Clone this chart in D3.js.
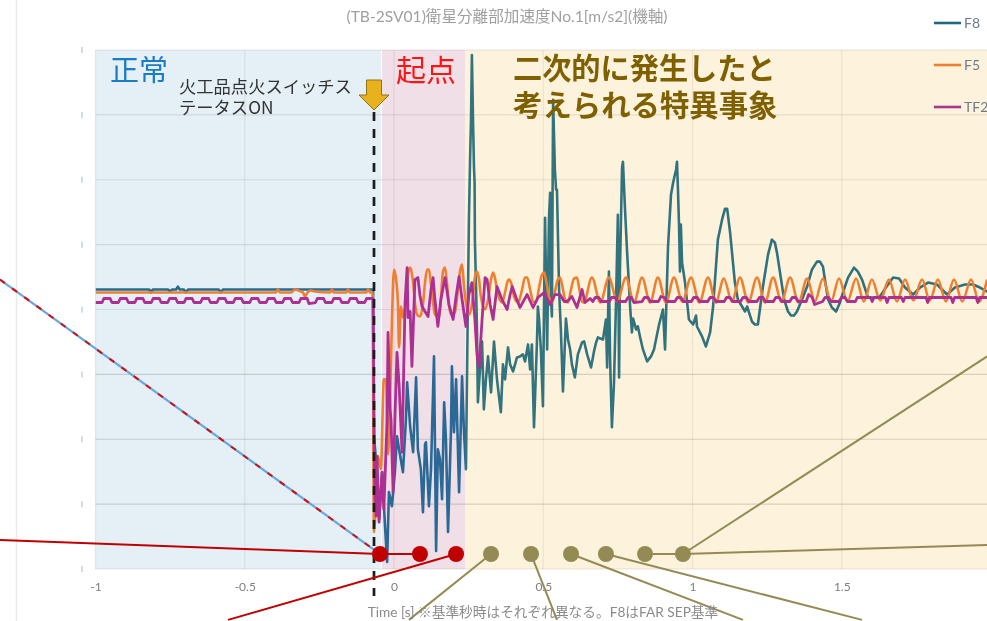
<!DOCTYPE html>
<html><head><meta charset="utf-8">
<script src="https://cdn.jsdelivr.net/npm/d3@7"></script>
<style>
html,body{margin:0;padding:0;background:#fff;overflow:hidden}
svg{display:block;filter:blur(0.45px)}
text{font-family:"Lato","Noto Sans CJK JP",sans-serif}
.jp{font-family:"Noto Sans CJK JP",sans-serif}
</style></head><body><div id="chart"></div>
<script>
// time in ms, acceleration value
const xTicks=[-1,-0.5,0,0.5,1,1.5];
const xTickLabels=["-1","-0.5","0","0.5","1","1.5"];
const yGrid=[-260,-195,-130,-65,0,65,130,195,260];
const title="(TB-2SV01)衛星分離部加速度No.1[m/s2](機軸)";
const xTitle="Time [s] ※基準秒時はそれぞれ異なる。F8はFAR SEP基準";
const legendNames=["F8","F5","TF2"];
const legendColors=["#1f6a80","#ed7d31","#a8358c"];
const phases=[[-1000,-43,"#e4f0f6"],[-40,238,"#f1dfe8"],[238,2000,"#fdf3dc"]];

const f8=[[-1000,20],[-820,20],[-814,17],[-808,20],[-757,20],[-750,18],[-743,20],[-730,20],[-724,23],[-718,20],[-704,20],[-697,17],[-690,20],[-587,20],[-580,17],[-573,20],[-70,20],
[-67,-127],[-57,-163],[-50,-210],[-40,-163],[-30,-217],[-23,-253],[-17,-183],[-7,-197],[3,-163],[10,-127],[17,-140],[30,-163],[40,-110],[44,-73],[54,-117],[64,-143],[74,-68],[80,-140],[90,-160],[97,-203],[104,-135],[107,-133],[117,-197],[124,-160],[134,-47],[141,-242],[147,-140],[154,-150],[161,-190],[168,-93],[174,-130],[181,-223],[191,-120],[194,-57],[201,-123],[208,-70],[218,-183],[228,-67],[234,-120],[241,-160],
[248,20],[251,90],[255,153],[258,190],[261,255],[265,185],[268,142],[270,127],[271,70],[275,20],[278,-20],[281,-93],[288,-60],[295,-32],[301,-100],[308,-70],[315,-47],[325,-83],[335,-32],[345,-70],[358,-103],[365,-55],[372,-70],[382,-38],[389,-55],[399,-62],[412,-48],[422,-47],[432,-45],[439,-52],[449,-35],[456,-60],[462,-35],[469,-118],[479,-32],[482,3],[486,-10],[492,-40],[499,-97],[506,92],[513,-40],[519,90],[523,117],[526,10],[529,-7],[533,210],[539,140],[543,120],[546,120],[553,20],[559,-20],[566,-82],[576,-9],[583,-30],[590,-40],[596,-55],[606,-68],[616,-45],[630,-33],[637,-32],[647,-45],[660,-58],[670,-42],[677,-33],[683,-28],[700,-30],[710,-10],[714,-58],[720,38],[724,-50],[730,-118],[737,-73],[744,10],[750,95],[754,-68],[757,40],[764,142],[767,148],[774,100],[781,57],[791,3],[797,-23],[801,-9],[811,-20],[817,-17],[824,-27],[834,-40],[848,-52],[861,-47],[871,-40],[888,-15],[901,0],[908,-40],[918,63],[928,115],[935,127],[941,135],[945,140],[948,148],[951,123],[955,83],[958,38],[961,85],[965,47],[975,27],[988,-10],[1002,-15],[1012,-6],[1015,-17],[1032,-27],[1045,-37],[1059,-23],[1069,3],[1085,70],[1099,90],[1109,101],[1116,101],[1126,77],[1142,27],[1152,10],[1166,3],[1176,-2],[1183,3],[1199,-12],[1209,-15],[1219,-15],[1236,23],[1253,55],[1266,70],[1276,67],[1283,57],[1307,10],[1320,-2],[1330,-6],[1340,-6],[1350,-2],[1367,10],[1384,23],[1400,40],[1417,48],[1427,48],[1437,43],[1454,10],[1467,2],[1481,-2],[1494,7],[1504,17],[1521,32],[1541,42],[1554,38],[1568,30],[1588,12],[1608,12],[1628,13],[1648,22],[1672,32],[1692,31],[1712,22],[1739,15],[1762,22],[1789,27],[1819,25],[1853,15],[1879,22],[1913,25],[1940,25],[1963,22],[1987,18],[2013,17]];

const f5=[[-1000,17],[-396,17],[-389,20],[-382,17],[-345,17],[-332,20],[-320,19],[-305,17],[-298,13],[-290,17],[-278,19],[-265,18],[-214,17],[-208,20],[-202,17],[-160,17],[-154,20],[-148,17],[-93,17],[-87,20],[-80,17],[-72,17],
[-67,-223],[-54,-147],[-44,-160],[-34,-70],[-27,-70],[-20,-145],[-13,-90],[-7,-13],[0,40],[7,30],[13,7],[17,-38],[23,3],[30,-8],[40,10],[47,35],[54,42],[57,40],[64,27],[70,7],[77,-5],[87,-7],[97,5],[104,27],[111,40],[117,40],[124,25],[131,7],[137,-5],[151,-8],[157,10],[164,38],[171,42],[178,25],[184,5],[191,-5],[204,-3],[214,20],[221,38],[228,45],[234,25],[241,7],[251,-5],[258,0],[265,15],[271,32],[278,38],[285,30],[291,13],[305,0],[315,10],[325,30],[332,37],[338,32],[348,15],[362,7],[372,17],[379,27],[385,30],[392,27],[402,13],[416,7],[429,20],[439,32],[446,32],[456,20],[466,8],[476,7],[486,22],[496,35],[503,37],[509,30],[519,13],[529,7],[539,18],[549,30],[556,32],[563,25],[573,10],[583,7],[593,20],[603,31],[613,32],[620,22],[630,8],[636,7],
[663,32],[691,7],[720,32],[748,8],[777,32],[804,7],[831,32],[858,7],[884,32],[911,7],[938,32],[966,8],[995,32],[1023,7],[1052,32],[1078,7],[1105,31],[1132,8],[1159,32],[1187,7],[1216,32],[1243,7],[1270,32],[1298,8],[1327,32],[1355,7],[1384,31],[1410,8],[1437,31],[1464,8],[1491,31],[1519,8],[1548,31],[1574,8],[1601,30],[1629,9],[1658,30],[1685,8],[1712,30],[1740,9],[1769,30],[1795,9],[1822,30],[1849,8],[1876,30],[1904,8],[1933,30],[1960,8],[1987,30]];

const tf2=[[-1000,7],[-978,7],[-972,11],[-951,11],[-945,7],[-923,7],[-917,11],[-896,11],[-890,7],[-868,7],[-862,11],[-841,11],[-835,7],[-813,7],[-807,11],[-786,11],[-780,7],[-758,7],[-752,11],[-731,11],[-725,7],[-703,7],[-697,11],[-676,11],[-670,7],[-648,7],[-642,11],[-621,11],[-615,7],[-593,7],[-587,11],[-566,11],[-560,7],[-538,7],[-532,11],[-511,11],[-505,7],[-483,7],[-477,11],[-456,11],[-450,7],[-428,7],[-422,11],[-401,11],[-395,7],[-373,7],[-367,11],[-346,11],[-340,7],[-318,7],[-312,11],[-291,11],[-285,6],[-263,7],[-257,11],[-236,11],[-230,7],[-208,7],[-202,11],[-181,11],[-175,7],[-153,7],[-147,11],[-126,11],[-120,7],[-98,7],[-92,11],[-73,11],
[-70,10],[-67,-117],[-64,-190],[-60,-207],[-57,-147],[-50,-213],[-40,-163],[-34,-200],[-23,-110],[-20,-23],[-13,-100],[-10,-110],[-3,-183],[3,-110],[10,-43],[17,-75],[27,-143],[37,7],[44,42],[47,-8],[54,-2],[60,-57],[70,30],[80,32],[87,14],[94,3],[104,-2],[114,-7],[124,20],[131,32],[137,10],[147,-17],[157,10],[171,32],[184,5],[198,-10],[208,13],[218,33],[228,10],[241,-17],[251,15],[261,27],[271,-10],[278,-45],[285,-58],[295,-10],[305,32],[312,30],[322,5],[332,-10],[345,23],[362,10],[379,0],[389,15],[396,23],[409,12],[422,2],[446,15],[466,2],[482,12],[503,17],[523,5],[539,15],[556,15],[570,8],[580,8],[596,13],[613,2],[630,20],[640,7],[657,11],
[666,8],[674,12],[686,12],[694,8],[721,8],[729,12],[741,12],[749,8],[776,8],[784,12],[796,12],[804,7],[831,8],[839,12],[851,12],[859,8],[886,8],[894,13],[906,12],[914,8],[941,8],[949,12],[961,12],[969,8],[996,8],[1004,12],[1016,12],[1024,8],[1051,8],[1059,12],[1071,12],[1079,8],[1106,8],[1114,12],[1126,12],[1134,8],[1161,8],[1169,12],[1181,12],[1189,8],[1216,8],[1224,12],[1236,12],[1244,8],[1271,8],[1279,12],[1291,12],[1299,8],[1326,8],[1334,12],[1346,12],[1354,8],[1381,8],[1389,15],[1401,12],[1409,5],[1436,8],[1444,12],[1456,12],[1464,8],[1491,8],[1499,12],[1511,12],[1519,8],[1546,8],[1552,12],[1596,12],[1602,8],[1608,12],[1646,12],[1652,7],[1658,12],[1700,12],[1706,8],[1712,12],[1782,12],[1788,7],[1794,12],[1866,12],[1872,7],[1878,12],[1950,12],[1956,7],[1962,12],[2013,12]];

const arrowTimeMs=-68;
const redMarkers=[-47,87,208];
const oliveMarkers=[325,459,593,710,841,968];
const markerValue=-245;
const redLeaders=[[[-1320,-231],[-47,-245]],[[-47,-245],[87,-245]],[[208,-245],[-556,-311]]];
const oliveLeaders=[[[325,-245],[50,-311]],[[459,-245],[546,-311]],[[593,-245],[1169,-311]],[[710,-245],[1568,-311]],[[841,-245],[968,-245]],[[968,-245],[1987,-47]],[[968,-245],[1987,-236]]];
const dashedLeader=[[-1320,30],[-47,-245]];

const W=987,H=621;
const x=d3.scaleLinear().domain([-1,2]).range([95.5,991]);
const y=d3.scaleLinear().domain([-260,260]).range([569,50]);
const X=ms=>x(ms/1000);
const svg=d3.select("#chart").append("svg").attr("width",W).attr("height",H);
const defs=svg.append("defs");
defs.append("clipPath").attr("id","plot").append("rect").attr("x",X(-1000)).attr("y",y(260)).attr("width",X(2000)-X(-1000)).attr("height",y(-260)-y(260));

// page edge line
svg.append("line").attr("x1",16.5).attr("x2",16.5).attr("y1",0).attr("y2",H).attr("stroke","#e9e9e9").attr("stroke-width",1.5);

// phases
svg.selectAll("rect.phase").data(phases).join("rect").attr("class","phase")
 .attr("x",d=>X(d[0])).attr("width",d=>X(d[1])-X(d[0])).attr("y",y(260)).attr("height",y(-260)-y(260)).attr("fill",d=>d[2]);

// grid
svg.selectAll("line.h").data(yGrid).join("line").attr("class","h").attr("x1",x(-1)).attr("x2",W)
 .attr("y1",d=>y(d)).attr("y2",d=>y(d)).attr("stroke",d=>(d<0&&d>-200)?"rgba(70,60,50,0.2)":"rgba(70,60,50,0.12)").attr("stroke-width",1.2);
svg.selectAll("line.v").data(xTicks).join("line").attr("class","v").attr("x1",d=>x(d)).attr("x2",d=>x(d))
 .attr("y1",y(260)).attr("y2",y(-260)).attr("stroke","rgba(70,60,50,0.09)").attr("stroke-width",1.2);
// y tick stubs (labels hidden in the source)
svg.selectAll("line.stub").data(yGrid).join("line").attr("class","stub").attr("x1",82).attr("x2",82)
 .attr("y1",d=>y(d)-3).attr("y2",d=>y(d)+3).attr("stroke","#c3d0e2").attr("stroke-width",1.5);

// x axis labels
const ax=svg.append("g").attr("transform",`translate(0,${y(-260)})`).call(d3.axisBottom(x).tickValues(xTicks).tickSize(0).tickPadding(13).tickFormat((d,i)=>xTickLabels[i]));
ax.select(".domain").remove();
ax.selectAll("text").attr("fill","#7f7f7f").style("font-size","12px");

// series
const grad=defs.append("linearGradient").attr("id","f8grad").attr("gradientUnits","userSpaceOnUse").attr("x1",0).attr("x2",W).attr("y1",0).attr("y2",0);
const bnd=X(238)/W;
[[0,"#1f6f8f"],[bnd,"#2b6896"],[bnd,"#33747e"],[1,"#2f6f7c"]].forEach(s=>grad.append("stop").attr("offset",s[0]).attr("stop-color",s[1]));
const line=d3.line().x(d=>X(d[0])).y(d=>y(d[1]));
const g=svg.append("g").attr("clip-path","url(#plot)").attr("fill","none").attr("stroke-linejoin","round");
g.append("path").datum(f8).attr("d",line).attr("stroke","url(#f8grad)").attr("stroke-width",2.6);
g.append("path").datum(f5).attr("d",line.curve(d3.curveMonotoneX)).attr("stroke","#ef7f30").attr("stroke-width",2.6);
line.curve(d3.curveLinear);
g.append("path").datum(tf2).attr("d",line).attr("stroke","#ad2f92").attr("stroke-width",2.8);

// dashed vertical
svg.append("line").attr("x1",X(arrowTimeMs)+0.3).attr("x2",X(arrowTimeMs)+0.3).attr("y1",112).attr("y2",596)
 .attr("stroke","#1c1c1c").attr("stroke-width",2.7).attr("stroke-dasharray","9,8");

// arrow
const ax0=X(arrowTimeMs)+0.3;
svg.append("path").attr("d",d3.line()([[ax0-7.5,80],[ax0+7.5,80],[ax0+7.5,95],[ax0+15,95],[ax0,110],[ax0-15,95],[ax0-7.5,95]])+"Z")
 .attr("fill","#e8b21f").attr("stroke","#8f7416").attr("stroke-width",1);

// leaders
const P=d=>[X(d[0]),y(d[1])];
svg.append("path").attr("d",d3.line()(dashedLeader.map(P))).attr("stroke","#6aa5e0").attr("stroke-width",2.2).attr("fill","none");
svg.append("path").attr("d",d3.line()(dashedLeader.map(P))).attr("stroke","#d01010").attr("stroke-width",2).attr("stroke-dasharray","6,9").attr("fill","none");
svg.selectAll("path.rl").data(redLeaders).join("path").attr("class","rl").attr("d",d=>d3.line()(d.map(P))).attr("stroke","#c00000").attr("stroke-width",2).attr("fill","none");
svg.selectAll("path.ol").data(oliveLeaders).join("path").attr("class","ol").attr("d",d=>d3.line()(d.map(P))).attr("stroke","#948a54").attr("stroke-width",2).attr("fill","none");
svg.selectAll("circle.r").data(redMarkers).join("circle").attr("class","r").attr("cx",d=>X(d)).attr("cy",y(markerValue)).attr("r",8).attr("fill","#c00000");
svg.selectAll("circle.o").data(oliveMarkers).join("circle").attr("class","o").attr("cx",d=>X(d)).attr("cy",y(markerValue)).attr("r",8).attr("fill","#948a54");

// titles
svg.append("text").attr("x",507).attr("y",22).attr("text-anchor","middle").attr("fill","#a0a0a0").style("font-size","15.6px").text(title);
svg.append("text").attr("x",543).attr("y",617).attr("text-anchor","middle").attr("fill","#8a8a8a").style("font-size","13.7px").text(xTitle);

// legend
legendNames.forEach((n,i)=>{
 const ly=23+42*i;
 svg.append("line").attr("x1",934).attr("x2",961).attr("y1",ly).attr("y2",ly).attr("stroke",legendColors[i]).attr("stroke-width",2.6);
 svg.append("text").attr("x",964).attr("y",ly+5).attr("fill","#6f7b8a").style("font-size","14px").text(n);
});

// annotations
function note(s,px,py,size,col,weight){svg.append("text").attr("class","jp").attr("x",px).attr("y",py).attr("fill",col).attr("font-weight",weight||400).style("font-size",size+"px").text(s);}
note("正常",110,81,29,"#1a7cc2");
note("起点",396,81,30,"#ff1414");
note("二次的に発生したと",513,79,29.2,"#7f6000",700);
note("考えられる特異事象",513,116,29.4,"#7f6000",700);
note("火工品点火スイッチス",179,93,17.3,"#333");
note("テータスON",179,114,17.3,"#333");
</script></body></html>
